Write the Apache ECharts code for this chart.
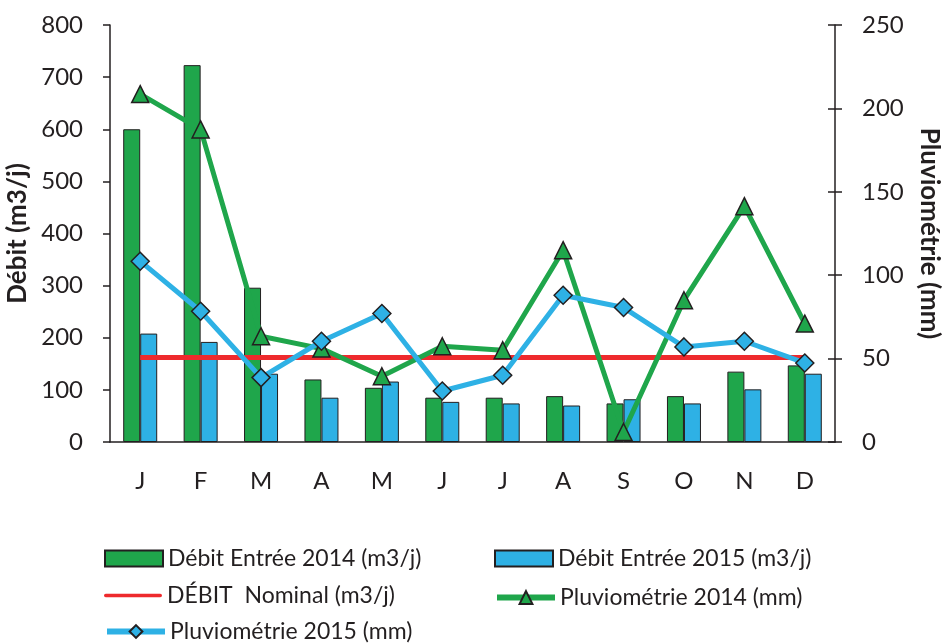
<!DOCTYPE html>
<html><head><meta charset="utf-8">
<script src="https://cdn.jsdelivr.net/npm/echarts@6/dist/echarts.min.js"></script>
<style>html,body{margin:0;padding:0;background:#fff}#c{width:942px;height:644px}</style>
</head><body><div id="c"></div>
<script>
const months = ['J','F','M','A','M','J','J','A','S','O','N','D'];
const debit2014 = [600, 723, 296, 120, 104, 85, 85, 88, 74, 88, 135, 147];
const debit2015 = [208, 192, 131, 85, 116, 77, 74, 70, 82, 74, 101, 131];
const debitNominal = [162, 162, 162, 162, 162, 162, 162, 162, 162, 162, 162, 162];
const pluvio2014 = [208.6, 187.4, 63.4, 56, 39.4, 57.4, 55, 115, 6, 85, 141.4, 71];
const pluvio2015 = [108.4, 78.4, 38.6, 60.4, 77, 30.6, 40, 88, 80.6, 57, 60.4, 47.4];
const leftTicks = {min: 0, max: 800, interval: 100};
const rightTicks = {min: 0, max: 250, interval: 50};

const FONT = 'Lato';
const TXT = '#231f20';
const GREEN = '#1fa64b', BLUE = '#2eb1e5', RED = '#ee2a2d';
const chart = echarts.init(document.getElementById('c'));
const legendText = {fontFamily: FONT, fontSize: 23, color: TXT};
function lg(name, left, top, extra) {
  return Object.assign({data: [name], left: left, top: top, itemWidth: 58, itemHeight: 16, itemGap: 0,
    textStyle: legendText, selectedMode: false, padding: 0}, extra || {});
}
chart.setOption({
  animation: false,
  textStyle: {fontFamily: FONT},
  grid: {left: 110, right: 107, top: 25, bottom: 202, containLabel: false, outerBoundsMode: 'none'},
  legend: [
    lg('Débit Entrée 2014 (m3/j)', 104, 547, {icon: 'rect'}),
    lg('Débit Entrée 2015 (m3/j)', 494, 547, {icon: 'rect'}),
    lg('DÉBIT  Nominal (m3/j)', 104, 584, {icon: 'path://M3,0 L97,0 A3,3 0 0 1 97,6 L3,6 A3,3 0 0 1 3,0 Z', itemHeight: 6}),
    lg('Pluviométrie 2014 (mm)', 494, 586, {lineStyle: {width: 6}}),
    lg('Pluviométrie 2015 (mm)', 104, 620, {lineStyle: {width: 6}})
  ],
  xAxis: {
    type: 'category', data: months,
    axisLine: {lineStyle: {color: '#231f20', width: 1.5}},
    axisTick: {length: 7, lineStyle: {color: '#231f20', width: 1.5}},
    axisLabel: {fontFamily: FONT, fontSize: 24, color: TXT, margin: 27}
  },
  yAxis: [
    {type: 'value', min: leftTicks.min, max: leftTicks.max, interval: leftTicks.interval,
     position: 'left', splitLine: {show: false},
     name: 'Débit (m3/j)', nameLocation: 'middle', nameGap: 68,
     nameTextStyle: {fontFamily: FONT, fontSize: 26, fontWeight: 'bold', color: TXT},
     axisLine: {show: true, lineStyle: {color: '#231f20', width: 1.5}},
     axisTick: {show: true, length: 7, lineStyle: {color: '#231f20', width: 1.5}},
     axisLabel: {fontFamily: FONT, fontSize: 24, color: TXT, margin: 27}},
    {type: 'value', min: rightTicks.min, max: rightTicks.max, interval: rightTicks.interval,
     position: 'right', splitLine: {show: false},
     name: 'Pluviométrie (mm)', nameLocation: 'middle', nameGap: 81, nameRotate: -90,
     nameTextStyle: {fontFamily: FONT, fontSize: 26, fontWeight: 'bold', color: TXT},
     axisLine: {show: true, lineStyle: {color: '#231f20', width: 1.5}},
     axisTick: {show: true, length: 7, lineStyle: {color: '#231f20', width: 1.5}},
     axisLabel: {fontFamily: FONT, fontSize: 24, color: TXT, margin: 27}},
    {type: 'value', min: rightTicks.min, max: rightTicks.max, interval: rightTicks.interval,
     position: 'right', splitLine: {show: false},
     axisLine: {show: false},
     axisTick: {show: true, inside: true, length: 7, lineStyle: {color: '#231f20', width: 1.5}},
     axisLabel: {show: false}}
  ],
  series: [
    {name: 'Débit Entrée 2014 (m3/j)', type: 'bar', data: debit2014, barWidth: 17, barGap: '0%',
     itemStyle: {color: GREEN, borderColor: '#231f20', borderWidth: 1}},
    {name: 'Débit Entrée 2015 (m3/j)', type: 'bar', data: debit2015, barWidth: 17, barGap: '0%',
     itemStyle: {color: BLUE, borderColor: '#231f20', borderWidth: 1}},
    {name: 'DÉBIT  Nominal (m3/j)', type: 'line', data: debitNominal, symbol: 'none',
     lineStyle: {color: RED, width: 5}, itemStyle: {color: RED}},
    {name: 'Pluviométrie 2014 (mm)', type: 'line', yAxisIndex: 1, data: pluvio2014,
     symbol: 'triangle', symbolSize: 17,
     lineStyle: {color: GREEN, width: 5},
     itemStyle: {color: GREEN, borderColor: '#231f20', borderWidth: 1.5}},
    {name: 'Pluviométrie 2015 (mm)', type: 'line', yAxisIndex: 1, data: pluvio2015,
     symbol: 'diamond', symbolSize: 18,
     lineStyle: {color: BLUE, width: 5},
     itemStyle: {color: BLUE, borderColor: '#231f20', borderWidth: 1.5}}
  ]
});
</script></body></html>
